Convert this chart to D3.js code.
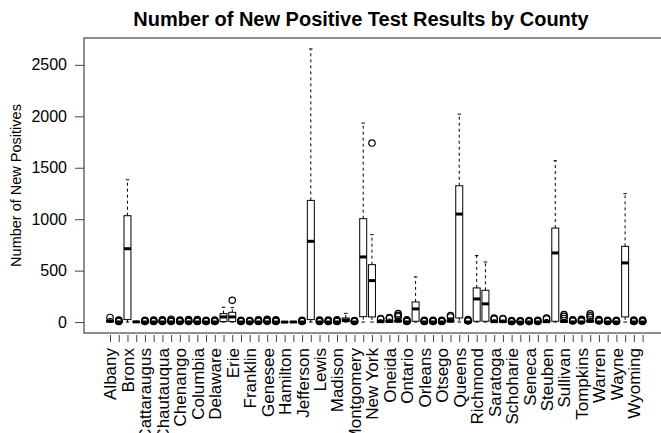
<!DOCTYPE html>
<html lang="en">
<head>
    <meta charset="UTF-8">
    <title>Number of New Positive Test Results by County</title>
    <script src="https://cdn.jsdelivr.net/npm/d3@7"></script>
    <style>
        body { margin: 0; background: white; }
        text { font-family: Arial, "Liberation Sans", sans-serif; fill: black; }
        .box { fill: white; stroke: black; stroke-width: 1; }
        .median { stroke: black; stroke-width: 3; }
        .whisker { stroke: black; stroke-width: 1; stroke-dasharray: 3,3; }
        .staple { stroke: black; stroke-width: 1; }
        .outlier { fill: none; stroke: black; stroke-width: 1.2; }
    </style>
</head>
<body>
<script>
    const width = 661, height = 433;

    // NY counties, alphabetical (R default order)
    const counties = ["Albany","Allegany","Bronx","Broome","Cattaraugus","Cayuga","Chautauqua","Chemung",
        "Chenango","Clinton","Columbia","Cortland","Delaware","Dutchess","Erie","Essex","Franklin","Fulton",
        "Genesee","Greene","Hamilton","Herkimer","Jefferson","Kings","Lewis","Livingston","Madison","Monroe",
        "Montgomery","Nassau","New York","Niagara","Oneida","Onondaga","Ontario","Orange","Orleans","Oswego",
        "Otsego","Putnam","Queens","Rensselaer","Richmond","Rockland","Saratoga","Schenectady","Schoharie",
        "Schuyler","Seneca","St. Lawrence","Steuben","Suffolk","Sullivan","Tioga","Tompkins","Ulster","Warren",
        "Washington","Wayne","Westchester","Wyoming","Yates"];

    // boxplot stats
    const whiskerLow = counties.map(() => 0);
    const q1 = [3,0,24,0,0,0,0,0,0,0,0,0,0,5,5,0,0,0,0,0,0,0,0,24,0,0,0,5,0,53,50,1,2,3,0,8,0,0,0,3,
        40,0,8,8,1,1,0,0,0,0,1,8,1,0,0,2,0,0,0,50,0,0];
    const median = [8,1,713,2,1,1,1,1,1,1,1,1,1,50,50,1,1,1,1,1,0,1,1,785,1,1,1,20,1,633,403,4,6,10,1,128,1,1,1,10,
        1050,1,225,177,4,4,1,0,1,1,4,672,5,1,1,8,1,1,1,575,1,1];
    const q3 = [18,3,1034,4,2,2,3,3,2,3,3,2,2,82,95,2,2,3,3,3,1,2,2,1183,2,2,3,40,2,1005,558,10,14,20,3,196,2,2,2,20,
        1325,3,332,309,10,10,2,1,2,2,12,914,12,3,3,16,3,2,2,736,2,2];
    const whiskerHigh = [35,7,1383,8,5,5,6,7,5,7,6,4,5,144,140,5,4,6,7,6,2,4,5,2655,5,5,6,85,4,1934,850,22,28,40,6,439,5,5,5,40,
        2021,6,646,584,22,20,4,3,4,5,25,1568,26,6,7,32,6,5,5,1248,5,5];
    const outliers = [[45],[6,10,14,20],[],[],[6,8,12,18],[6,8,13,19],[6,9,15,22],[6,10,18,28],[6,8,12,19],[6,10,16,24],
        [6,9,15,25],[6,7,11,17],[6,8,12,20],[],[212],[6,8,12,18],[6,7,11,16],[6,9,15,22],[7,11,18,26],[6,9,14,22],
        [],[],[6,8,12,18],[],[6,8,12,20],[6,8,13,20],[6,9,14,22],[],[6,7,11,16],[],
        [1740],[28,35],[36,45],[52,65,82],[6,9,14,22],[],[6,8,12,18],[6,8,12,18],[6,8,12,18],[50,63],
        [],[10,16,24],[],[],[30,38],[28,35],[5,6,10,14],[4,5,9,13],[5,7,11,15],[6,8,12,18],
        [32,40],[],[35,55,73],[10,16,22],[10,17,26],[45,60,80],[10,16,24],[6,8,12,18],[6,8,12,18],[],
        [6,8,13,20],[6,8,13,20]];

    const yTicks = [0, 500, 1000, 1500, 2000, 2500];

    const plot = {left: 84, right: 668.6, top: 38, bottom: 333};

    const svg = d3.select("body")
                  .append("svg")
                  .attr("width", width)
                  .attr("height", height);

    const n = counties.length;
    const x = d3.scaleLinear()
                .domain([1 - 2.98, n + 2.98])
                .range([plot.left, plot.right]);
    const y = d3.scaleLinear()
                .domain([-106.2, 2761.2])
                .range([plot.bottom, plot.top]);

    const boxW = (x(2) - x(1)) * 0.8;
    const stapleW = boxW * 0.5;

    const data = counties.map((name, i) => ({
        name: name, pos: i + 1,
        lo: whiskerLow[i], q1: q1[i], med: median[i], q3: q3[i], hi: whiskerHigh[i],
        out: outliers[i]
    }));

    const g = svg.selectAll("g.county")
                 .data(data)
                 .join("g").attr("class", "county");

    // whiskers
    g.append("line").attr("class", "whisker")
        .attr("x1", d => x(d.pos)).attr("x2", d => x(d.pos))
        .attr("y1", d => y(d.q3)).attr("y2", d => y(d.hi));
    g.append("line").attr("class", "whisker")
        .attr("x1", d => x(d.pos)).attr("x2", d => x(d.pos))
        .attr("y1", d => y(d.q1)).attr("y2", d => y(d.lo));
    g.append("line").attr("class", "staple")
        .attr("x1", d => x(d.pos) - stapleW / 2).attr("x2", d => x(d.pos) + stapleW / 2)
        .attr("y1", d => y(d.hi)).attr("y2", d => y(d.hi));
    g.append("line").attr("class", "staple")
        .attr("x1", d => x(d.pos) - stapleW / 2).attr("x2", d => x(d.pos) + stapleW / 2)
        .attr("y1", d => y(d.lo)).attr("y2", d => y(d.lo));

    // boxes and medians
    g.append("rect").attr("class", "box")
        .attr("x", d => x(d.pos) - boxW / 2)
        .attr("width", boxW)
        .attr("y", d => y(d.q3))
        .attr("height", d => Math.max(0, y(d.q1) - y(d.q3)));
    g.append("line").attr("class", "median")
        .attr("x1", d => x(d.pos) - boxW / 2).attr("x2", d => x(d.pos) + boxW / 2)
        .attr("y1", d => y(d.med)).attr("y2", d => y(d.med));

    // outliers
    g.selectAll("circle.outlier")
        .data(d => d.out.map(v => ({pos: d.pos, v: v})))
        .join("circle").attr("class", "outlier")
        .attr("cx", d => x(d.pos))
        .attr("cy", d => y(d.v))
        .attr("r", 3.2);

    // plot frame
    svg.append("rect")
        .attr("x", plot.left).attr("y", plot.top)
        .attr("width", plot.right - plot.left)
        .attr("height", plot.bottom - plot.top)
        .attr("fill", "none").attr("stroke", "#444").attr("stroke-width", 1.2);

    // y axis
    const yAxis = svg.append("g")
        .attr("transform", `translate(${plot.left},0)`)
        .call(d3.axisLeft(y).tickValues(yTicks).tickSize(9).tickPadding(8).tickFormat(d3.format("d")));
    yAxis.select(".domain").remove();
    yAxis.selectAll("text").style("font-size", "16px").attr("fill", "#222");
    yAxis.selectAll("line").attr("stroke", "#444");

    // x axis (every other label, as R drops overlapping ones)
    const xAxis = svg.append("g")
        .attr("transform", `translate(0,${plot.bottom})`)
        .call(d3.axisBottom(x).tickValues(d3.range(1, n + 1)).tickSize(9)
            .tickFormat((d, i) => i % 2 === 0 ? counties[i] : ""));
    xAxis.select(".domain").remove();
    xAxis.selectAll("line").attr("stroke", "#444").attr("y1", 2);
    xAxis.selectAll("text")
        .style("font-size", "17px")
        .attr("fill", "#222")
        .attr("transform", "rotate(-90)")
        .attr("text-anchor", "end")
        .attr("dy", "0.35em")
        .attr("x", -15)
        .attr("y", 0);

    // titles
    svg.append("text")
        .attr("x", 361).attr("y", 26)
        .attr("text-anchor", "middle")
        .style("font-size", "20px").style("font-weight", "bold")
        .text("Number of New Positive Test Results by County");

    svg.append("text")
        .attr("transform", `translate(21,${(plot.top + plot.bottom) / 2}) rotate(-90)`)
        .attr("text-anchor", "middle")
        .style("font-size", "14.5px")
        .attr("fill", "#222")
        .text("Number of New Positives");
</script>
</body>
</html>
